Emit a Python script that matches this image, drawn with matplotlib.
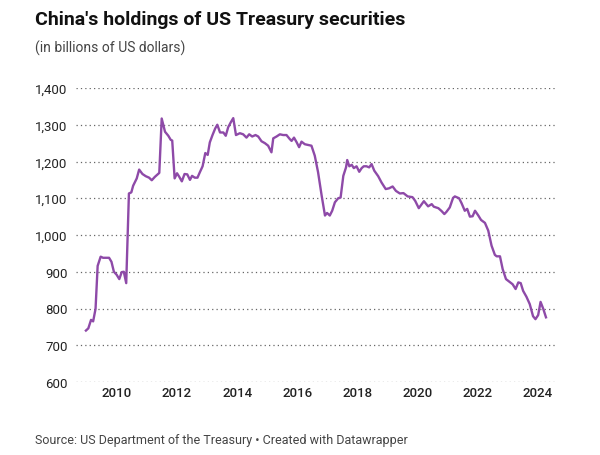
import numpy as np
import matplotlib
matplotlib.use("Agg")
import matplotlib.pyplot as plt
from matplotlib.ticker import FuncFormatter

# China's holdings, billions of US dollars
years = [
    2008.97, 2009.05, 2009.14, 2009.21, 2009.29, 2009.36, 2009.46, 2009.54,
    2009.66, 2009.74, 2009.82, 2009.90, 2009.99, 2010.08, 2010.16, 2010.23,
    2010.31, 2010.40, 2010.48, 2010.54, 2010.66, 2010.74, 2010.85, 2010.96,
    2011.07, 2011.16, 2011.26, 2011.37, 2011.41, 2011.49, 2011.60, 2011.71,
    2011.79, 2011.84, 2011.92, 2012.00, 2012.07, 2012.16, 2012.25, 2012.34,
    2012.43, 2012.50, 2012.59, 2012.68, 2012.76, 2012.85, 2012.94, 2013.02,
    2013.09, 2013.18, 2013.27, 2013.34, 2013.43, 2013.54, 2013.62, 2013.70,
    2013.79, 2013.87, 2013.96, 2014.09, 2014.20, 2014.31, 2014.40, 2014.50,
    2014.61, 2014.70, 2014.81, 2014.92, 2015.03, 2015.14, 2015.20, 2015.31,
    2015.42, 2015.53, 2015.64, 2015.75, 2015.81, 2015.89, 2015.98, 2016.06,
    2016.14, 2016.25, 2016.36, 2016.47, 2016.58, 2016.69, 2016.81, 2016.92,
    2016.99, 2017.08, 2017.16, 2017.25, 2017.36, 2017.44, 2017.53, 2017.62,
    2017.66, 2017.73, 2017.81, 2017.88, 2017.97, 2018.06, 2018.14, 2018.21,
    2018.30, 2018.39, 2018.47, 2018.56, 2018.69, 2018.80, 2018.94, 2019.05,
    2019.17, 2019.28, 2019.41, 2019.53, 2019.67, 2019.83, 2019.92, 2020.04,
    2020.21, 2020.35, 2020.47, 2020.54, 2020.69, 2020.80, 2020.89, 2020.96,
    2021.07, 2021.18, 2021.24, 2021.38, 2021.46, 2021.57, 2021.65, 2021.74,
    2021.83, 2021.91, 2022.02, 2022.11, 2022.24, 2022.35, 2022.46, 2022.57,
    2022.63, 2022.74, 2022.83, 2022.94, 2023.05, 2023.16, 2023.26, 2023.35,
    2023.43, 2023.51, 2023.62, 2023.73, 2023.84, 2023.92, 2024.01, 2024.09,
    2024.18, 2024.27,
]
holdings = [
    740, 746, 769, 765, 799, 916, 941, 938,
    938, 938, 927, 900, 892, 880, 899, 900,
    869, 1113, 1116, 1134, 1154, 1178, 1166, 1160,
    1156, 1149, 1158, 1166, 1169, 1317, 1281, 1270,
    1259, 1257, 1154, 1168, 1159, 1146, 1166, 1165,
    1150, 1161, 1156, 1156, 1171, 1187, 1223, 1218,
    1252, 1272, 1290, 1300, 1279, 1279, 1270, 1293,
    1307, 1318, 1272, 1277, 1274, 1265, 1274, 1268,
    1272, 1268, 1255, 1250, 1243, 1225, 1263, 1268,
    1274, 1272, 1272, 1261, 1256, 1265, 1252, 1239,
    1254, 1247, 1245, 1243, 1216, 1171, 1107, 1053,
    1060, 1053, 1066, 1089, 1100, 1102, 1161, 1184,
    1204, 1187, 1191, 1182, 1187, 1172, 1182, 1187,
    1187, 1184, 1193, 1175, 1160, 1143, 1125, 1127,
    1132, 1120, 1113, 1114, 1105, 1103, 1093, 1073,
    1092, 1078, 1084, 1077, 1073, 1065, 1057, 1063,
    1075, 1101, 1105, 1100, 1087, 1066, 1071, 1050,
    1051, 1066, 1053, 1041, 1033, 1012, 971, 946,
    942, 942, 907, 880, 873, 866, 853, 871,
    869, 848, 832, 812, 779, 771, 782, 818,
    799, 776,
]

y_ticks = [600, 700, 800, 900, 1000, 1100, 1200, 1300, 1400]
x_ticks = [2010, 2012, 2014, 2016, 2018, 2020, 2022, 2024]

plt.rcParams['font.family'] = ['Roboto', 'DejaVu Sans']

fig = plt.figure(figsize=(6, 4.56), dpi=100)
ax = fig.add_axes([76/600, 1 - 383/456, (555 - 76)/600, (383 - 89)/456])

ax.plot(years, holdings, color='#8e4aa8', linewidth=1.7, solid_joinstyle='round',
        zorder=3, clip_on=False)

ax.set_xlim(2008.64, 2024.57)
ax.set_ylim(600, 1400)
ax.set_yticks(y_ticks)
ax.set_xticks(x_ticks)
ax.yaxis.set_major_formatter(FuncFormatter(lambda v, _: f"{int(v):,}"))

ax.grid(axis='y', linestyle=(0, (1, 2.5)), color='#666666', linewidth=0.9)
ax.grid(axis='x', visible=False)
for spine in ax.spines.values():
    spine.set_visible(False)
ax.tick_params(axis='both', length=0, labelsize=9.5, colors='#222222')
ax.tick_params(axis='y', pad=6)
ax.tick_params(axis='x', pad=3)
for lbl in ax.get_xticklabels():
    lbl.set_fontweight('medium')

fig.text(35/600, 1 - 20/456, "China's holdings of US Treasury securities",
         fontsize=14, fontweight='bold', color='#111111', va='center', ha='left')
fig.text(35/600, 1 - 48/456, "(in billions of US dollars)",
         fontsize=10, color='#444444', va='center', ha='left')
fig.text(35/600, 1 - 441/456,
         "Source: US Department of the Treasury \u2022 Created with Datawrapper",
         fontsize=9, color='#444444', va='center', ha='left')

fig.savefig('out.png', dpi=100)
